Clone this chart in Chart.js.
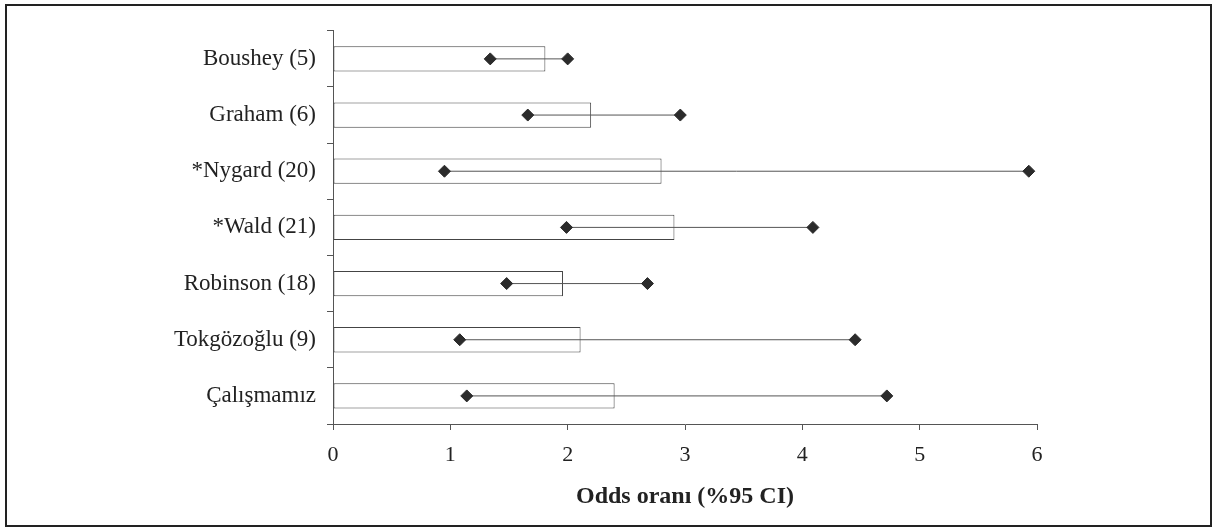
<!DOCTYPE html>
<html lang="tr">
<head>
    <meta charset="UTF-8">
    <title>Odds oranı (%95 CI)</title>
    <script src="https://cdn.jsdelivr.net/npm/chart.js"></script>
    <style>
        body { margin: 0; background: #fff; }
        .frame { position: absolute; left: 5px; top: 4px; width: 1207px; height: 523px; box-sizing: border-box; border: 2px solid #222; background: #fff; }
        .frame canvas { display: block; }
    </style>
</head>
<body>
    <div class="frame"><canvas id="chart" width="1203" height="519"></canvas></div>

    <script>
        const studies = ['Boushey (5)', 'Graham (6)', '*Nygard (20)', '*Wald (21)', 'Robinson (18)', 'Tokgözoğlu (9)', 'Çalışmamız'];
        const oddsRatio = [1.81, 2.20, 2.80, 2.91, 1.96, 2.11, 2.40];
        const ciLow = [1.34, 1.66, 0.95, 1.99, 1.48, 1.08, 1.14];
        const ciHigh = [2.00, 2.96, 5.93, 4.09, 2.68, 4.45, 4.72];
        const xTicks = [0, 1, 2, 3, 4, 5, 6];

        const serif = '"Liberation Serif", "DejaVu Serif", serif';

        // one line dataset per study for the confidence interval
        const ciSets = studies.map((name, i) => ({
            type: 'line',
            data: [{ x: ciLow[i], y: name }, { x: ciHigh[i], y: name }],
            borderColor: '#555',
            borderWidth: 1,
            pointStyle: 'rectRot',
            pointRadius: 6,
            pointBackgroundColor: '#2b2b2b',
            pointBorderColor: '#2b2b2b',
            pointBorderWidth: 1,
            order: 1
        }));

        new Chart(document.getElementById('chart'), {
            type: 'bar',
            data: {
                labels: studies,
                datasets: [{
                    data: oddsRatio,
                    backgroundColor: '#fff',
                    borderColor: '#444',
                    borderWidth: 1,
                    borderSkipped: false,
                    categoryPercentage: 1,
                    barPercentage: 0.45,
                    order: 2
                }].concat(ciSets)
            },
            options: {
                indexAxis: 'y',
                responsive: false,
                animation: false,
                layout: { padding: { top: 22, right: 173, bottom: 12, left: 0 } },
                plugins: { legend: { display: false }, tooltip: { enabled: false } },
                scales: {
                    x: {
                        min: 0,
                        max: 6,
                        afterBuildTicks: s => { s.ticks = xTicks.map(v => ({ value: v })); },
                        afterFit: s => { s.height = 89; },
                        grid: { drawOnChartArea: false, tickLength: 6, color: '#555' },
                        border: { color: '#555', width: 1 },
                        ticks: { color: '#222', padding: 12, font: { family: serif, size: 22 } },
                        title: {
                            display: true,
                            text: 'Odds oranı (%95 CI)',
                            color: '#222',
                            padding: { top: 6, bottom: 2 },
                            font: { family: serif, size: 24, weight: 'bold' }
                        }
                    },
                    y: {
                        afterFit: s => { s.width = 326; },
                        grid: { drawOnChartArea: false, offset: true, tickLength: 6, color: '#555' },
                        border: { color: '#555', width: 1 },
                        ticks: { color: '#222', padding: 11, font: { family: serif, size: 23 } }
                    }
                }
            }
        });
    </script>
</body>
</html>
